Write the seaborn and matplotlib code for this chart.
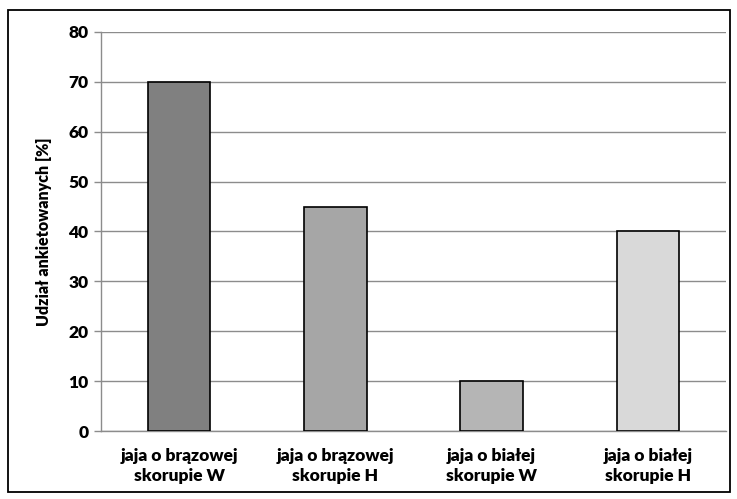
import matplotlib
matplotlib.use("Agg")
import matplotlib.pyplot as plt
import seaborn as sns
import pandas as pd
from matplotlib.patches import Rectangle

categories = ["jaja o brązowej\nskorupie W", "jaja o brązowej\nskorupie H",
              "jaja o białej\nskorupie W", "jaja o białej\nskorupie H"]
values = [70, 45, 10, 40]
bar_colors = ["#808080", "#a6a6a6", "#b5b5b5", "#d9d9d9"]
y_ticks = [0, 10, 20, 30, 40, 50, 60, 70, 80]

sns.set_theme(style="white")
plt.rcParams["font.family"] = ["Lato", "DejaVu Sans"]
WEIGHT = "heavy"

df = pd.DataFrame({"kategoria": categories, "udzial": values})

fig = plt.figure(figsize=(7.37, 4.99), dpi=100)
ax = fig.add_axes([101 / 737, 1 - 431 / 499, 625 / 737, 399 / 499])

# outer frame around the whole chart
fig.patches.append(Rectangle((8 / 737, 7 / 499), 722 / 737, 482 / 499,
                             transform=fig.transFigure, fill=False,
                             edgecolor="black", linewidth=1.3, zorder=0))

sns.barplot(data=df, x="kategoria", y="udzial", hue="kategoria",
            palette=bar_colors, width=0.4, edgecolor="black", linewidth=1.2,
            legend=False, ax=ax, zorder=3)

ax.set_ylim(0, 80)
ax.set_yticks(y_ticks)
ax.yaxis.grid(True, color="#8c8c8c", linewidth=1.0, zorder=0)
ax.xaxis.grid(False)
ax.set_axisbelow(True)

for side in ["top", "right"]:
    ax.spines[side].set_visible(False)
for side in ["left", "bottom"]:
    ax.spines[side].set_color("#8c8c8c")
    ax.spines[side].set_linewidth(1.0)

ax.tick_params(axis="y", which="major", length=5, width=1.0, color="#8c8c8c",
               labelsize=12.5, pad=4, left=True)
ax.tick_params(axis="x", length=0, labelsize=12.5, pad=12)
for lab in ax.get_xticklabels() + ax.get_yticklabels():
    lab.set_fontweight(WEIGHT)
    lab.set_color("black")
for lab in ax.get_xticklabels():
    lab.set_linespacing(1.35)

ax.set_xlabel("")
ax.set_ylabel("Udział ankietowanych [%]", fontsize=11.5, fontweight=WEIGHT,
              color="black", labelpad=12)

fig.savefig("out.png", dpi=100, facecolor="white")
